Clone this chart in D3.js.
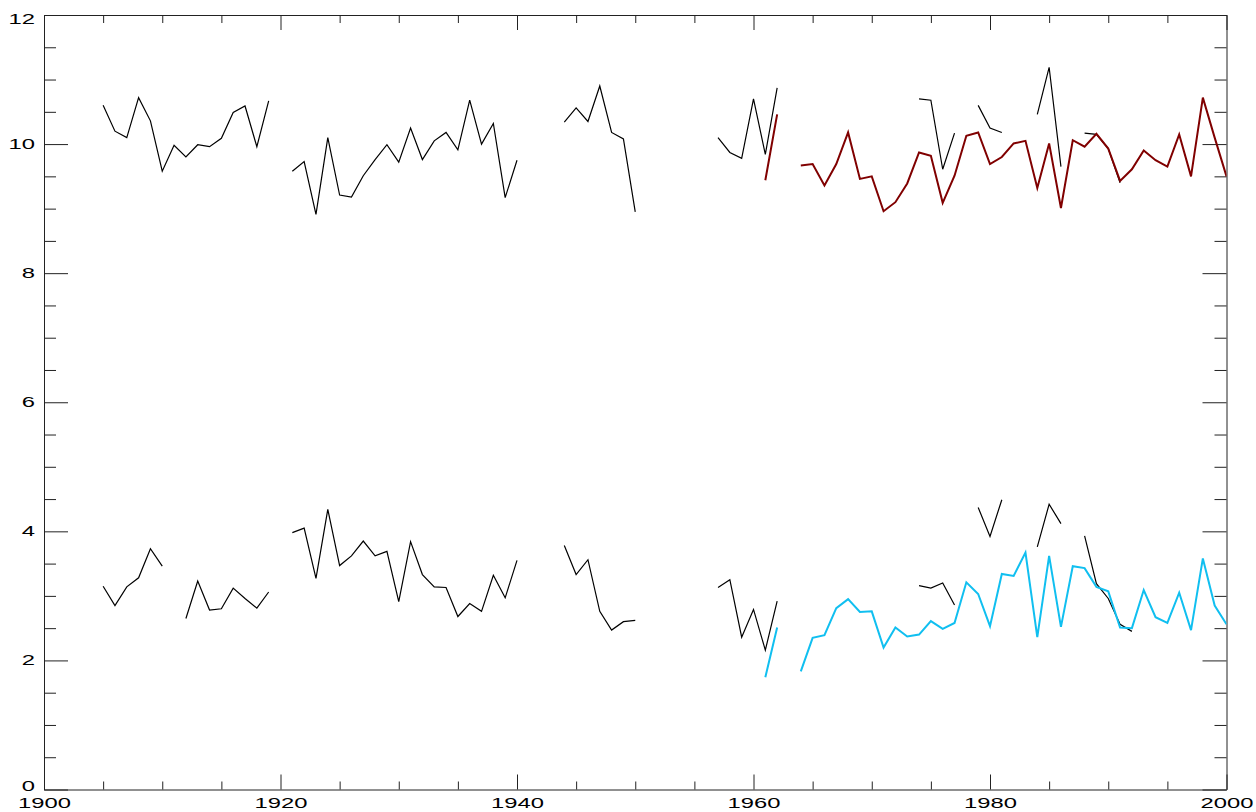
<!DOCTYPE html>
<html>
<head>
<meta charset="utf-8">
<script src="https://cdn.jsdelivr.net/npm/d3@7"></script>
<style>
  body { margin: 0; background: #fff; }
  svg { display: block; }
  .axis text { font-family: "Liberation Sans", Arial, sans-serif; font-size: 14px; fill: #000; }
  .axis path, .axis line { stroke: #222; stroke-width: 1; }
</style>
</head>
<body>
<svg id="svg" width="1256" height="812"></svg>
<script>
// years for the black station series (1905 .. 2000)
var years = d3.range(1905, 2001);
// years for the coloured reference series (1961 .. 2000)
var refYears = d3.range(1961, 2001);

var blackTop = [
  10.60, 10.20, 10.10, 10.72, 10.36, 9.58, 9.98, 9.80, 9.99, 9.96,
  10.09, 10.49, 10.59, 9.96, 10.67, null, 9.58, 9.73, 8.91, 10.10,
  9.21, 9.18, 9.51, 9.76, 9.99, 9.72, 10.25, 9.76, 10.05, 10.18,
  9.91, 10.68, 10.00, 10.32, 9.17, 9.75, null, null, null, 10.34,
  10.56, 10.35, 10.90, 10.18, 10.08, 8.95, null, null, null, null,
  null, null, 10.10, 9.87, 9.78, 10.70, 9.84, 10.87, null, null,
  null, null, null, null, null, null, null, null, null, 10.70,
  10.68, 9.61, 10.17, null, 10.60, 10.25, 10.18, null, null, 10.46,
  11.19, 9.65, null, 10.17, 10.15, 9.93, 9.40, null, null, null,
  null, null, null, null, null, null
];

var blackBottom = [
  3.15, 2.85, 3.14, 3.28, 3.73, 3.46, null, 2.65, 3.23, 2.78,
  2.80, 3.12, 2.96, 2.81, 3.06, null, 3.98, 4.05, 3.27, 4.34,
  3.47, 3.62, 3.85, 3.62, 3.69, 2.91, 3.84, 3.33, 3.14, 3.13,
  2.68, 2.88, 2.76, 3.32, 2.97, 3.55, null, null, null, 3.78,
  3.33, 3.56, 2.76, 2.47, 2.60, 2.62, null, null, null, null,
  null, null, 3.13, 3.25, 2.36, 2.79, 2.16, 2.92, null, null,
  null, null, null, null, null, null, null, null, null, 3.16,
  3.12, 3.20, 2.86, null, 4.37, 3.92, 4.49, null, null, 3.76,
  4.42, 4.12, null, 3.93, 3.19, 2.96, 2.56, 2.45, null, null,
  null, null, null, null, null, null
];

var redSeries = [
  9.44, 10.46, null, 9.67, 9.69, 9.36, 9.69, 10.18, 9.46, 9.50,
  8.96, 9.10, 9.39, 9.87, 9.82, 9.09, 9.51, 10.13, 10.18, 9.69,
  9.80, 10.01, 10.05, 9.32, 10.01, 9.01, 10.06, 9.96, 10.16, 9.93,
  9.43, 9.61, 9.90, 9.75, 9.65, 10.15, 9.50, 10.72, 10.10, 9.50
];

var cyanSeries = [
  1.74, 2.51, null, 1.83, 2.35, 2.39, 2.81, 2.95, 2.75, 2.76,
  2.20, 2.51, 2.37, 2.40, 2.61, 2.49, 2.58, 3.21, 3.03, 2.53,
  3.34, 3.31, 3.67, 2.36, 3.62, 2.52, 3.46, 3.43, 3.14, 3.07,
  2.51, 2.50, 3.09, 2.67, 2.58, 3.05, 2.47, 3.58, 2.85, 2.56
];

var xMajor = [1900, 1920, 1940, 1960, 1980, 2000];
var xMinor = [1905, 1910, 1915, 1925, 1930, 1935, 1945, 1950, 1955, 1965, 1970, 1975, 1985, 1990, 1995];
var yMajor = [0, 2, 4, 6, 8, 10, 12];
var yMinor = [0.5, 1, 1.5, 2.5, 3, 3.5, 4.5, 5, 5.5, 6.5, 7, 7.5, 8.5, 9, 9.5, 10.5, 11, 11.5];

var plotLeft = 44, plotRight = 1226.5, plotTop = 15, plotBottom = 789.5;
var stretch = 1.7;

var svg = d3.select("svg");

var x = d3.scaleLinear().domain([1900, 2000]).range([plotLeft, plotRight]);
var y = d3.scaleLinear().domain([0, 12]).range([plotBottom, plotTop]);

svg.append("defs").append("clipPath").attr("id", "plot")
  .append("rect")
  .attr("x", plotLeft).attr("y", plotTop)
  .attr("width", plotRight - plotLeft).attr("height", plotBottom - plotTop);

// axes: ticks point inwards on all four sides
var gx = svg.append("g").attr("class", "axis")
  .attr("transform", "translate(0," + plotBottom + ")")
  .call(d3.axisBottom(x).tickValues(xMajor).tickSize(-15).tickSizeOuter(0).tickPadding(9).tickFormat(d3.format("d")));
gx.selectAll("text").attr("transform", "scale(" + stretch + ",1)");

svg.append("g").attr("class", "axis")
  .attr("transform", "translate(0," + plotBottom + ")")
  .call(d3.axisBottom(x).tickValues(xMinor).tickSize(-8).tickFormat(""))
  .select(".domain").remove();

svg.append("g").attr("class", "axis")
  .attr("transform", "translate(0," + plotTop + ")")
  .call(d3.axisTop(x).tickValues(xMajor).tickSize(-15).tickSizeOuter(0).tickFormat(""));

svg.append("g").attr("class", "axis")
  .attr("transform", "translate(0," + plotTop + ")")
  .call(d3.axisTop(x).tickValues(xMinor).tickSize(-8).tickFormat(""))
  .select(".domain").remove();

var gy = svg.append("g").attr("class", "axis")
  .attr("transform", "translate(" + plotLeft + ",0)")
  .call(d3.axisLeft(y).tickValues(yMajor).tickSize(-24).tickSizeOuter(0).tickFormat(d3.format("d")));
gy.selectAll("text")
  .attr("x", -9 / stretch)
  .attr("transform", "scale(" + stretch + ",1)")
  .attr("dy", function (d) { return d === 12 ? "0.62em" : (d === 0 ? "0.07em" : "0.32em"); });

svg.append("g").attr("class", "axis")
  .attr("transform", "translate(" + plotLeft + ",0)")
  .call(d3.axisLeft(y).tickValues(yMinor).tickSize(-12).tickFormat(""))
  .select(".domain").remove();

svg.append("g").attr("class", "axis")
  .attr("transform", "translate(" + plotRight + ",0)")
  .call(d3.axisRight(y).tickValues(yMajor).tickSize(-24).tickSizeOuter(0).tickFormat(""));

svg.append("g").attr("class", "axis")
  .attr("transform", "translate(" + plotRight + ",0)")
  .call(d3.axisRight(y).tickValues(yMinor).tickSize(-12).tickFormat(""))
  .select(".domain").remove();

function drawSeries(xs, vals, color, width) {
  var pts = xs.map(function (yr, i) { return { year: yr, v: vals[i] }; });
  var line = d3.line()
    .defined(function (d) { return d.v != null; })
    .x(function (d) { return x(d.year); })
    .y(function (d) { return y(d.v); });
  svg.append("path")
    .datum(pts)
    .attr("clip-path", "url(#plot)")
    .attr("fill", "none")
    .attr("stroke", color)
    .attr("stroke-width", width)
    .attr("stroke-linejoin", "miter")
    .attr("d", line);
}

drawSeries(years, blackTop, "#000", 1.2);
drawSeries(years, blackBottom, "#000", 1.2);
drawSeries(refYears, redSeries, "#800000", 2);
drawSeries(refYears, cyanSeries, "#10bff0", 2);
</script>
</body>
</html>
